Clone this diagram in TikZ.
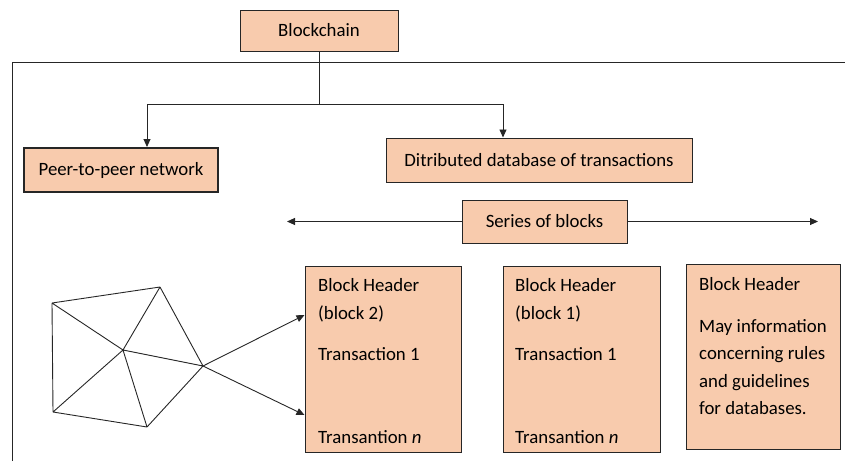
\documentclass[tikz,border=0pt]{standalone}
\usepackage{fontspec}
\setmainfont{Carlito}
\usetikzlibrary{arrows.meta}
\definecolor{peach}{HTML}{F8CBAD}
\definecolor{edge}{HTML}{262626}
\begin{document}
\begin{tikzpicture}[x=1pt,y=-1pt,
  box/.style={draw=edge,fill=peach,line width=1pt,inner sep=0pt,font=\fontsize{18.8}{22}\selectfont},
  txt/.style={anchor=base west,inner sep=0pt,font=\fontsize{18.8}{22}\selectfont},
  ln/.style={draw=edge,line width=0.9pt},
  arr/.style={ln,-{Triangle[length=8pt,width=7pt]}}]
\useasboundingbox (0,0) rectangle (845,461);
% outer frame
\coordinate (fb) at (12,461);
\coordinate (ftl) at (12,62);
\coordinate (ftr) at (845,62);
\draw[ln] (fb) -- (ftl) -- (ftr);
% top boxes
\node[box,minimum width=158pt,minimum height=41pt] (bc) at (319,30.5) {Blockchain};
\node[box,line width=2pt,minimum width=194pt,minimum height=44pt] (p2p) at (121,170) {Peer-to-peer network};
\node[box,minimum width=306pt,minimum height=44pt] (db) at (539,160) {Ditributed database of transactions};
\node[box,minimum width=165pt,minimum height=43pt] (sob) at (544.5,221.5) {Series of blocks};
\coordinate (j) at (319,104);
\draw[ln] (bc.south) -- (j);
\draw[arr] (j) -| ([xshift=26pt]p2p.north);
\draw[arr] (j) -| ([xshift=-36pt]db.north);
\coordinate (sl) at (287,221.5);
\coordinate (sr) at (818,221.5);
\draw[arr] (sob.west) -- (sl);
\draw[arr] (sob.east) -- (sr);
% blocks
\node[box,minimum width=156pt,minimum height=186pt] (b2) at (383,359) {};
\node[box,minimum width=157pt,minimum height=186pt] (b1) at (581.5,359) {};
\node[box,minimum width=154pt,minimum height=185pt] (b0) at (763,356.5) {};
\node[txt] (b2a) at (318,291) {Block Header};
\node[txt] (b2b) at (318,319) {(block 2)};
\node[txt] (b2c) at (318,360) {Transaction 1};
\node[txt] (b2d) at (318,443) {Transantion \textit{n}};
\node[txt] (b1a) at (515,291) {Block Header};
\node[txt] (b1b) at (515,319) {(block 1)};
\node[txt] (b1c) at (515,360) {Transaction 1};
\node[txt] (b1d) at (515,443) {Transantion \textit{n}};
\node[txt] (b0a) at (699,290) {Block Header};
\node[txt] (b0b) at (699,332) {May information};
\node[txt] (b0c) at (699,359) {concerning rules};
\node[txt] (b0d) at (699,387) {and guidelines};
\node[txt] (b0e) at (699,414) {for databases.};
% network
\coordinate (A) at (52,303);
\coordinate (B) at (160,287);
\coordinate (C) at (123,350);
\coordinate (D) at (53,412);
\coordinate (E) at (147,427);
\coordinate (F) at (203,366);
\draw[ln] (A) -- (B) (A) -- (C) (A) -- (D) (C) -- (B) (B) -- (F) (C) -- (F)
  (C) -- (E) (D) -- (C) (D) -- (E) (E) -- (F);
\draw[arr] (F) -- ([yshift=44pt]b2.west);
\draw[arr] (F) -- ([yshift=-56pt]b2.west);
\end{tikzpicture}
\end{document}
